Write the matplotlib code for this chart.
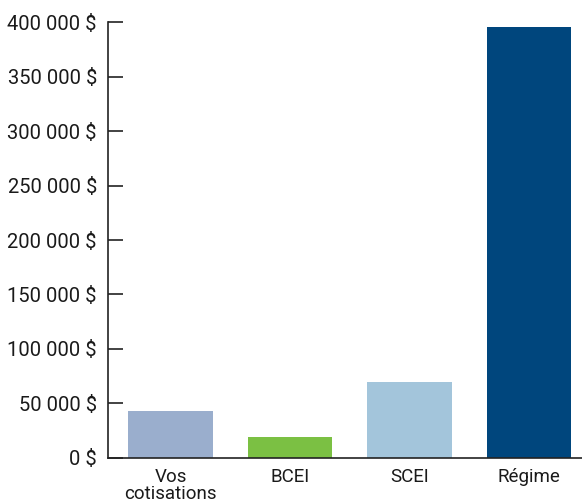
import matplotlib
matplotlib.use('Agg')
import matplotlib.pyplot as plt
from matplotlib.ticker import FuncFormatter

# Data
categories = ['Vos\ncotisations', 'BCEI', 'SCEI', 'Régime']
values = [43000, 19300, 69800, 395000]
colors = ['#9aaecd', '#7bc043', '#a3c5db', '#00467d']
yticks = [0, 50000, 100000, 150000, 200000, 250000, 300000, 350000, 400000]

plt.rcParams['font.family'] = ['Liberation Sans Narrow', 'Roboto', 'DejaVu Sans']

fig = plt.figure(figsize=(5.82, 5.04), dpi=100)
ax = fig.add_axes([0.1856, 0.0913, 0.8144, 0.865])

x = list(range(len(categories)))
ax.bar(x, values, width=0.71, color=colors)

ax.set_xlim(-0.523, 3.444)
ax.set_ylim(0, 400000)
ax.set_yticks(yticks)
ax.yaxis.set_major_formatter(FuncFormatter(lambda v, p: f'{int(v):,} $'.replace(',', ' ')))
ax.set_xticks(x)
ax.set_xticklabels(categories, linespacing=0.95)

for s in ['top', 'right']:
    ax.spines[s].set_visible(False)
ax.spines['left'].set_color('#222222')
ax.spines['bottom'].set_color('#222222')
ax.spines['left'].set_linewidth(1.2)
ax.spines['bottom'].set_linewidth(1.2)

ax.tick_params(axis='y', direction='in', length=11, width=1.2, color='#222222',
               labelsize=14.5, pad=8, labelcolor='#1a1a1a')
ax.tick_params(axis='x', length=0, labelsize=13.5, pad=7, labelcolor='#1a1a1a')

plt.savefig('out.png', dpi=100)
